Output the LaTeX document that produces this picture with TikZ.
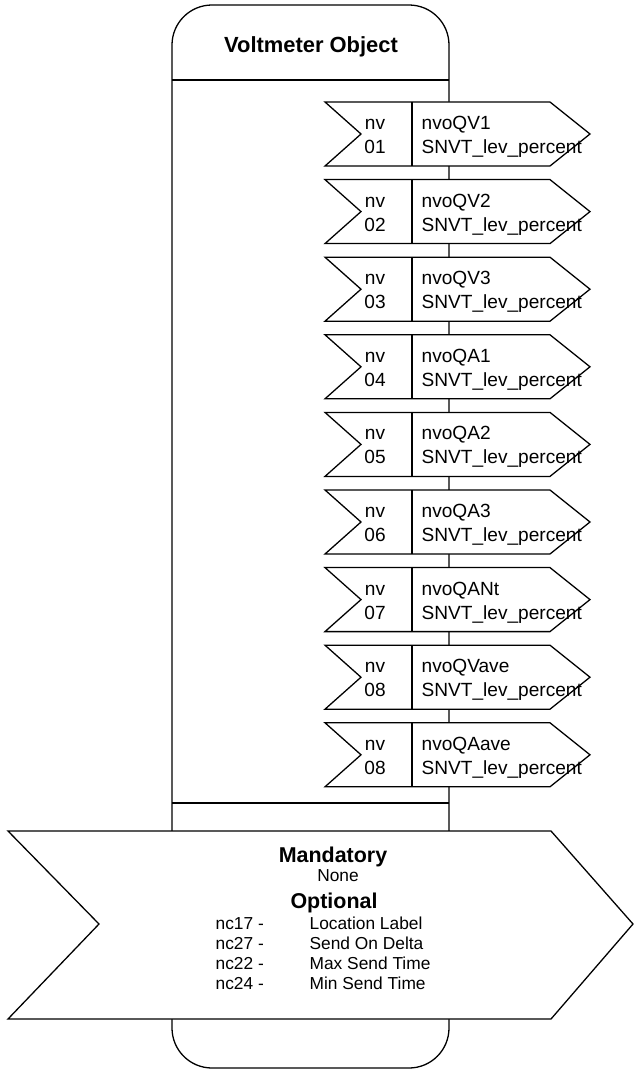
\documentclass[tikz,border=0pt]{standalone}
\usepackage{fontspec}
\setmainfont{Liberation Sans}
\usetikzlibrary{calc}

\begin{document}
\begin{tikzpicture}[x=0.3mm,y=-0.3mm,line width=1.1pt,
  titolo/.style={font=\bfseries\fontsize{18.7}{22}\selectfont, inner sep=0pt},
  voce/.style={font=\fontsize{16.3}{20}\selectfont, inner sep=0pt},
  capo/.style={font=\bfseries\fontsize{18.3}{22}\selectfont, inner sep=0pt, anchor=base},
  riga/.style={font=\fontsize{14.8}{18}\selectfont, inner sep=0pt, anchor=base west}]
\useasboundingbox (0,0) rectangle (635,1069);
% corpo dell'oggetto
\draw[rounded corners=12mm] (172,831) -- (172,5) -- (449,5) -- (449,831);
\draw (172,80) -- (449,80);
\draw (172,803) -- (449,803);
\draw[rounded corners=12mm] (172,1019) -- (172,1068) -- (449,1068) -- (449,1019);
\node[titolo, anchor=base] (titolo) at (311,53) {Voltmeter Object};
% variabili di rete
\foreach \i/\num/\nome in {
  0/01/nvoQV1, 1/02/nvoQV2, 2/03/nvoQV3,
  3/04/nvoQA1, 4/05/nvoQA2, 5/06/nvoQA3,
  6/07/nvoQANt, 7/08/nvoQVave, 8/08/nvoQAave
}{
  \pgfmathsetmacro\yt{102+77.6*\i}
  \draw[fill=white] (325,\yt) -- (550,\yt) -- (590,\yt+32) -- (550,\yt+64)
    -- (325,\yt+64) -- (361,\yt+32) -- cycle;
  \draw (412,\yt) -- (412,\yt+64);
  \node[voce, anchor=base] (nv\i) at (375,\yt+27.5) {nv};
  \node[voce, anchor=base] (num\i) at (375,\yt+51.5) {\num};
  \node[voce, anchor=base west] (nome\i) at (421,\yt+27.5) {\nome};
  \node[voce, anchor=base west] (tipo\i) at (421,\yt+51.5) {SNVT\_lev\_percent};
}
% proprieta di configurazione
\draw[fill=white] (8,831) -- (551,831) -- (633,924) -- (551,1019) -- (8,1019) -- (99,924) -- cycle;
\node[capo] (mand) at (333,862) {Mandatory};
\node[riga, anchor=base] (none) at (338,881) {None};
\node[capo] (opt) at (334,908) {Optional};
\foreach \j/\nc/\testo in {0/nc17/Location Label, 1/nc27/Send On Delta,
  2/nc22/Max Send Time, 3/nc24/Min Send Time}{
  \node[riga] (nc\j) at (215,929+20.3*\j) {\nc\ -};
  \node[riga] (desc\j) at (309,929+20.3*\j) {\testo};
}
\end{tikzpicture}
\end{document}
